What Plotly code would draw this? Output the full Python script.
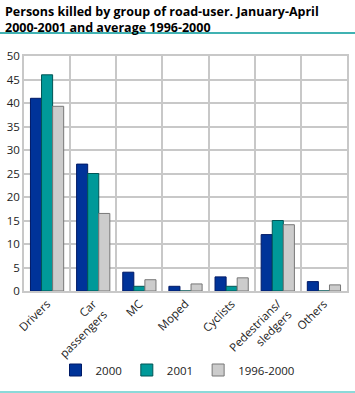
import plotly.graph_objects as go

categories = ["Drivers", "Car<br>passengers", "MC", "Moped", "Cyclists", "Pedestrians/<br>sledgers", "Others"]
v2000 = [41, 27, 4, 1, 3, 12, 2]
v2001 = [46, 25, 1, 0, 1, 15, 0]
vavg = [39.3, 16.5, 2.4, 1.5, 2.8, 14.1, 1.3]
series_names = ["2000", "2001", "1996-2000"]
y_ticks = [0, 5, 10, 15, 20, 25, 30, 35, 40, 45, 50]

W, H = 355, 393
L, R, T, B = 24, 8, 56, 102
pw, ph = W - L - R, H - T - B

fnt = "Open Sans, DejaVu Sans, sans-serif"

fig = go.Figure()
specs = [(v2000, "#003399", "#001a66"), (v2001, "#009999", "#005555"), (vavg, "#cccccc", "#777777")]
for name, (vals, col, lc) in zip(series_names, specs):
    fig.add_trace(go.Bar(x=categories, y=vals, name=name,
                         marker=dict(color=col, line=dict(color=lc, width=1))))

fig.update_layout(
    width=W, height=H,
    margin=dict(l=L, r=R, t=T, b=B, autoexpand=False),
    paper_bgcolor="white", plot_bgcolor="white",
    barmode="group", bargap=0.28, bargroupgap=0,
    font=dict(family=fnt, size=11, color="#222"),
    showlegend=True,
    legend=dict(orientation="h", x=0.5, xanchor="center", xref="container",
                y=23 / H, yanchor="middle", yref="container", bgcolor="rgba(0,0,0,0)",
                font=dict(size=11.5), itemwidth=30, traceorder="normal"),
    xaxis=dict(tickangle=-45, tickson="boundaries", showgrid=True, gridcolor="#c8c8c8",
               gridwidth=1.5, showline=True, linecolor="#c8c8c8", linewidth=1.5,
               ticks="", tickfont=dict(size=11.5, color="#222"), mirror=True, automargin=False),
    yaxis=dict(range=[0, 50], tickvals=y_ticks, showgrid=True, gridcolor="#c8c8c8",
               gridwidth=1.5, showline=True, linecolor="#c8c8c8", linewidth=1.5,
               ticks="", tickfont=dict(size=11.5, color="#222"), zeroline=False, mirror=True,
               automargin=False),
    annotations=[
        dict(text="<b>Persons killed by group of road-user. January-April<br>2000-2001 and average 1996-2000</b>",
             xref="paper", yref="paper", x=(3 - L) / pw, y=(H - B - 1) / ph,
             xanchor="left", yanchor="top", align="left", showarrow=False,
             font=dict(family=fnt, size=12.5, color="black")),
    ],
    shapes=[
        dict(type="line", xref="paper", yref="paper",
             x0=-L / pw, x1=(W - L) / pw, y0=(H - B - 33) / ph, y1=(H - B - 33) / ph,
             line=dict(color="#009999", width=1.5)),
        dict(type="line", xref="paper", yref="paper",
             x0=-L / pw, x1=(W - L) / pw, y0=(H - B - 392) / ph, y1=(H - B - 392) / ph,
             line=dict(color="#66cccc", width=1.5)),
    ],
)

fig.write_html("out.html", config={"displayModeBar": False},
               post_script="document.body.style.margin='0';document.body.style.overflow='hidden';")
